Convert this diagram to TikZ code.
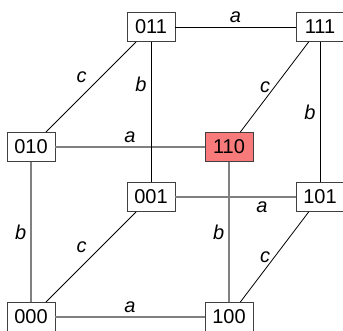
\documentclass[tikz,border=0pt]{standalone}
\usepackage{fontspec}
\setmainfont{Liberation Sans}
\usepackage{xcolor}
\definecolor{hilite}{RGB}{248,122,122}

\begin{document}
\begin{tikzpicture}[x=1pt, y=1pt, font=\fontsize{20}{22}\selectfont,
    vertex/.style={draw=black!75, line width=0.9pt, fill=white, minimum width=48pt, minimum height=29pt, inner sep=0pt},
    back/.style={black, line width=0.8pt},
    front/.style={black!50, line width=1.5pt},
    lbl/.style={font=\fontsize{20}{22}\selectfont\itshape, inner sep=4pt}]
    \useasboundingbox (0,0) rectangle (343,330);

    % Corner positions
    \coordinate (p011) at (151,303);
    \coordinate (p111) at (320,303);
    \coordinate (p010) at (31,183);
    \coordinate (p110) at (229,183);
    \coordinate (p001) at (151,133);
    \coordinate (p101) at (320,133);
    \coordinate (p000) at (31,13);
    \coordinate (p100) at (229,13);

    % Vertices
    \node[vertex] (v011) at (p011) {011};
    \node[vertex] (v111) at (p111) {111};
    \node[vertex] (v010) at (p010) {010};
    \node[vertex, fill=hilite] (v110) at (p110) {110};
    \node[vertex] (v001) at (p001) {001};
    \node[vertex] (v101) at (p101) {101};
    \node[vertex] (v000) at (p000) {000};
    \node[vertex] (v100) at (p100) {100};

    % a edges
    \draw[back] (v011) -- node[lbl, above] {a} (v111);
    \draw[front] (v010) -- node[lbl, above, black] {a} (v110);
    \draw[front] (v001) -- node[lbl, below, pos=0.72, black] {a} (v101);
    \draw[front] (v000) -- node[lbl, above, black] {a} (v100);

    % b edges
    \draw[back] (v011) -- node[lbl, left, pos=0.3] {b} (v001);
    \draw[back] (v111) -- node[lbl, left] {b} (v101);
    \draw[front] (v010) -- node[lbl, left, black] {b} (v000);
    \draw[front] (v110) -- node[lbl, left, black] {b} (v100);

    % c edges
    \draw[back] (v010) -- node[lbl, above left] {c} (v011);
    \draw[back] (v110) -- node[lbl, left] {c} (v111);
    \draw[back] (v000) -- node[lbl, above left] {c} (v001);
    \draw[back] (v100) -- node[lbl, left] {c} (v101);

\end{tikzpicture}
\end{document}
